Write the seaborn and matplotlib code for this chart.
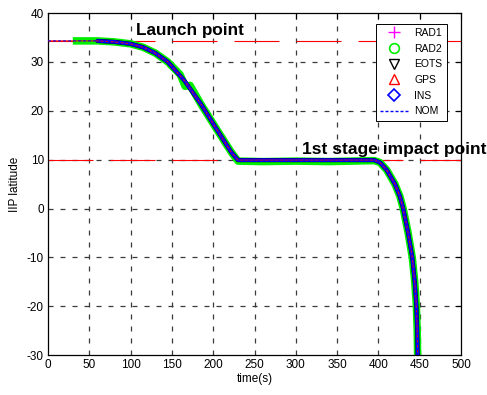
import numpy as np
import pandas as pd
import matplotlib
matplotlib.use("Agg")
import matplotlib.pyplot as plt
from matplotlib.lines import Line2D
import seaborn as sns

# ---- data ----
t_nom = [0, 60, 80, 100, 115, 130, 145, 165, 185, 205, 222, 230, 300, 395,
         402, 410, 420, 426, 430, 436, 441, 444, 446, 447, 447.5]
lat_nom = [34.3, 34.3, 34.1, 33.7, 33.0, 31.8, 30.0, 26.2, 21.4, 16.0, 11.5,
           9.9, 9.9, 9.9, 9.4, 7.9, 5.0, 2.5, 0.0, -5.0, -10.0, -15.0,
           -20.0, -25.0, -30.0]

t_rad2 = [30, 60, 80, 100, 115, 130, 145, 160, 166, 172, 185, 205, 222, 230,
          260, 300, 340, 395, 402, 410, 420, 426, 430, 436, 441, 444, 446,
          447, 447.5]
lat_rad2 = [34.3, 34.3, 34.1, 33.7, 33.0, 31.8, 30.0, 27.4, 25.0, 25.2, 21.4,
            16.0, 11.5, 9.7, 9.6, 9.7, 9.6, 9.8, 9.4, 7.9, 5.0, 2.5, 0.0,
            -5.0, -10.0, -15.0, -20.0, -25.0, -30.0]

t_gps = t_nom
lat_gps = lat_nom
t_ins = t_nom[1:]
lat_ins = lat_nom[1:]

launch_lat = 34.2
impact_lat = 10.0

x_ticks = list(range(0, 501, 50))
y_ticks = list(range(-30, 41, 10))

# ---- style ----
sns.set_style("white")
plt.rcParams['font.family'] = ['Liberation Sans', 'DejaVu Sans']
plt.rcParams['lines.scale_dashes'] = False
plt.rcParams['axes.unicode_minus'] = False
plt.rcParams['text.color'] = 'black'
plt.rcParams['axes.labelcolor'] = 'black'

fig = plt.figure(figsize=(4.87, 3.95), dpi=100)
ax = fig.add_axes([0.0986, 0.101, 0.848, 0.866])

px = 0.72  # points per pixel at 100 dpi

# grid
for xv in x_ticks[1:-1]:
    ax.axvline(xv, color='#3a3a3a', lw=0.9, dashes=(5 * px, 7 * px), zorder=0.5)
for yv in y_ticks[1:-1]:
    ax.axhline(yv, color='#3a3a3a', lw=0.9, dashes=(5 * px, 7 * px), zorder=0.5)

# reference lines
ax.axhline(launch_lat, color='red', lw=0.8, dashes=(45 * px, 17 * px), zorder=1)
ax.axhline(impact_lat, color='red', lw=0.8, dashes=(45 * px, 17 * px), zorder=1)

# series
sns.lineplot(x=t_rad2, y=lat_rad2, ax=ax, color='#00ee00', lw=7.5 * px,
             sort=False, estimator=None, zorder=2, solid_capstyle='butt')
sns.lineplot(x=t_ins, y=lat_ins, ax=ax, color='black', lw=4.2 * px,
             sort=False, estimator=None, zorder=3)
sns.lineplot(x=t_ins, y=lat_ins, ax=ax, color='#0000ff', lw=3.6 * px,
             sort=False, estimator=None, zorder=4)
sns.lineplot(x=t_gps, y=lat_gps, ax=ax, color='red', lw=1.0 * px,
             sort=False, estimator=None, zorder=5)
ax.plot(t_nom, lat_nom, color='#0000ff', lw=0.7, dashes=(3 * px, 2 * px), zorder=6)

ax.set_xlim(0, 500)
ax.set_ylim(-30, 40)
ax.set_xticks(x_ticks)
ax.set_yticks(y_ticks)
ax.tick_params(direction='in', length=4, width=0.8, top=True, right=True,
               labelsize=8.5, pad=3, colors='black')
for s in ax.spines.values():
    s.set_color('black')
    s.set_linewidth(0.9)

ax.set_xlabel('time(s)', fontsize=8.5, labelpad=1, color='black')
ax.set_ylabel('IIP latitude', fontsize=8.5, labelpad=4, color='black')

ax.text(107, 36.5, 'Launch point', fontsize=12.3, fontweight='bold',
        va='center', ha='left', zorder=10, color='black')
ax.text(308, 12.0, '1st stage impact point', fontsize=12.5, fontweight='bold',
        va='center', ha='left', zorder=10, clip_on=False, color='black')

handles = [
    Line2D([], [], ls='none', marker='+', color='magenta', markersize=8, mew=1),
    Line2D([], [], ls='none', marker='o', color='#00ee00', mfc='none', markersize=7, mew=1.2),
    Line2D([], [], ls='none', marker='v', color='black', mfc='none', markersize=7, mew=1),
    Line2D([], [], ls='none', marker='^', color='red', mfc='none', markersize=7, mew=1),
    Line2D([], [], ls='none', marker='D', color='#0000ff', mfc='none', markersize=6, mew=1.2),
    Line2D([], [], color='#0000ff', lw=1, dashes=(3 * px, 2 * px)),
]
labels = ['RAD1', 'RAD2', 'EOTS', 'GPS', 'INS', 'NOM']
leg = ax.legend(handles, labels, loc='upper right', bbox_to_anchor=(0.965, 0.969),
                fontsize=7.5, frameon=True, fancybox=False, framealpha=1,
                edgecolor='black', borderpad=0.4, labelspacing=0.55,
                handlelength=2.8, handletextpad=0.5, borderaxespad=0)
leg.get_frame().set_linewidth(0.7)
leg.set_zorder(20)
for txt in leg.get_texts():
    txt.set_color('black')

fig.savefig('out.png', dpi=100)
